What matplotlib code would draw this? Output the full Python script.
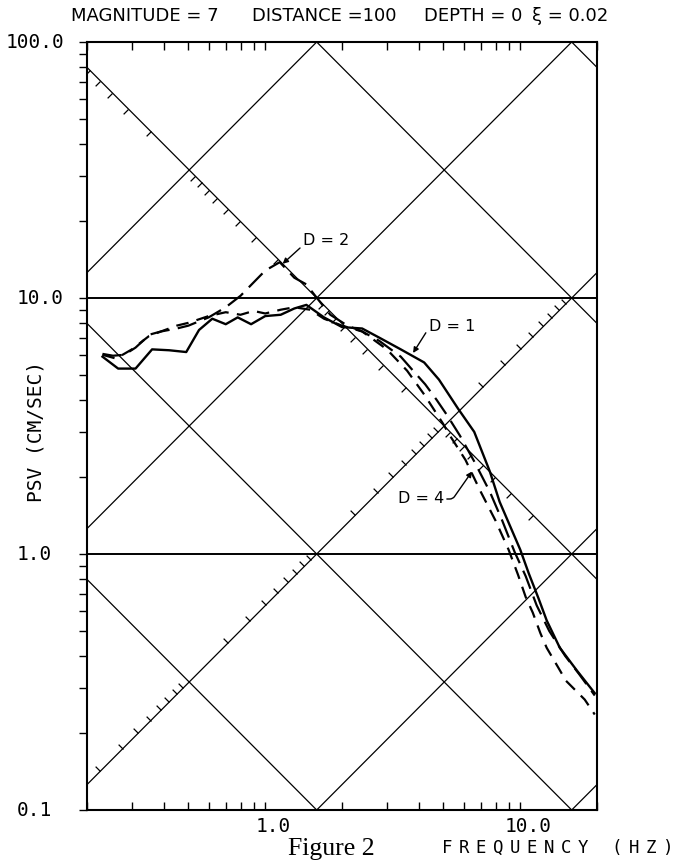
import numpy as np
import matplotlib.pyplot as plt
import matplotlib.transforms as mtransforms
from matplotlib.path import Path
from matplotlib.ticker import FixedLocator, NullFormatter

plt.rcParams['lines.scale_dashes'] = False

# PSV response spectra (cm/sec) vs frequency (Hz), one per depth parameter D
freq_d1 = [0.23, 0.265, 0.31, 0.36, 0.42, 0.49, 0.55, 0.62, 0.70, 0.78, 0.88, 1.0,
           1.15, 1.3, 1.45, 1.7, 2.0, 2.4, 2.8, 3.4, 4.2, 4.8, 5.7, 6.6, 7.6, 8.3,
           9.4, 10.0, 10.8, 11.8, 12.7, 14.3, 16.7, 19.6]
psv_d1 = [5.9, 5.3, 5.3, 6.3, 6.25, 6.15, 7.5, 8.3, 7.9, 8.4, 7.9, 8.5,
          8.6, 9.1, 9.4, 8.4, 7.7, 7.6, 7.0, 6.3, 5.6, 4.8, 3.7, 3.0, 2.1, 1.6,
          1.2, 1.04, 0.84, 0.67, 0.55, 0.43, 0.35, 0.286]

freq_d2 = [0.23, 0.253, 0.28, 0.31, 0.353, 0.39, 0.45, 0.5, 0.6, 0.7, 0.8, 0.9, 1.0,
           1.14, 1.3, 1.45, 1.57, 1.8, 2.1, 2.4, 2.8, 3.4, 3.8, 4.24, 4.7, 5.15,
           5.8, 6.6, 7.6, 8.5, 9.5, 10.5, 11.6, 13.0, 15.0, 17.0, 19.6]
psv_d2 = [6.05, 5.95, 6.0, 6.4, 7.2, 7.4, 7.6, 7.8, 8.4, 9.2, 10.2, 11.5, 12.8,
          13.8, 12.0, 11.3, 10.2, 8.6, 7.8, 7.4, 6.8, 5.9, 5.2, 4.6, 4.0, 3.5,
          2.9, 2.3, 1.75, 1.35, 1.02, 0.82, 0.63, 0.5, 0.4, 0.34, 0.28]

freq_d4 = [0.23, 0.26, 0.30, 0.35, 0.39, 0.45, 0.5, 0.6, 0.7, 0.8, 0.9, 1.0, 1.15,
           1.3, 1.5, 1.7, 2.0, 2.4, 3.0, 3.6, 4.2, 4.98, 5.3, 6.1, 7.0, 8.0,
           9.0, 9.8, 10.5, 11.2, 12.0, 12.7, 14.1, 15.1, 17.9, 19.6]
psv_d4 = [6.0, 5.8, 6.3, 7.1, 7.4, 7.8, 8.0, 8.5, 8.8, 8.6, 8.9, 8.7, 9.0,
          9.2, 9.0, 8.3, 7.8, 7.4, 6.3, 5.2, 4.2, 3.23, 2.9, 2.33, 1.75, 1.35,
          1.04, 0.83, 0.68, 0.59, 0.49, 0.43, 0.36, 0.32, 0.27, 0.236]

# tripartite grid: displacement (cm) and acceleration (cm/sec^2) decades
disp_levels = [1e-4, 1e-3, 1e-2, 1e-1, 1, 10, 100]
acc_levels = [0.1, 1, 10, 100, 1e3, 1e4, 1e5]
disp_scale_acc = 100.0   # acceleration line that carries the displacement ticks
acc_scale_disp = 0.1     # displacement line that carries the acceleration ticks

x_labels = ['1.0', '10.0']
y_labels = ['0.1', '1.0', '10.0', '100.0']

fmin, fmax = 0.2, 20.0
vmin, vmax = 0.1, 100.0

W, H = 691, 860
fig = plt.figure(figsize=(W / 100, H / 100), dpi=100)
ax = fig.add_axes([87 / W, 50 / H, 510 / W, 768 / H])
ax.set_xscale('log')
ax.set_yscale('log')
ax.set_xlim(fmin, fmax)
ax.set_ylim(vmin, vmax)

f = np.logspace(np.log10(fmin), np.log10(fmax), 200)
for d in disp_levels:
    ax.plot(f, 2 * np.pi * f * d, color='k', lw=0.9)
for a in acc_levels:
    ax.plot(f, a / (2 * np.pi * f), color='k', lw=0.9)
for v in [1.0, 10.0]:
    ax.axhline(v, color='k', lw=1.4)

# small ticks along the two scale diagonals
mult = [m * 10.0 ** k for k in range(-4, 6) for m in range(2, 10)]
tick_dl = Path([(0, 0), (-1, -1)])
tick_ul = Path([(0, 0), (-1, 1)])

fd, vd = [], []
for d in mult:
    ff = np.sqrt(disp_scale_acc / d) / (2 * np.pi)
    vv = disp_scale_acc / (2 * np.pi * ff)
    if fmin < ff < 16 and vmin < vv < vmax:
        fd.append(ff)
        vd.append(vv)
ax.plot(fd, vd, ls='none', marker=tick_dl, ms=7, mec='k', mew=0.9)

fa, va = [], []
for a in mult:
    ff = np.sqrt(a / acc_scale_disp) / (2 * np.pi)
    vv = 2 * np.pi * ff * acc_scale_disp
    if fmin < ff < 16 and vmin < vv < vmax:
        fa.append(ff)
        va.append(vv)
ax.plot(fa, va, ls='none', marker=tick_ul, ms=7, mec='k', mew=0.9)

# spectra
ax.plot(freq_d1, psv_d1, color='k', lw=1.7)
ax.plot(freq_d2, psv_d2, color='k', lw=1.6, dashes=(14, 6))
ax.plot(freq_d4, psv_d4, color='k', lw=1.6, dashes=(9, 6))

arrow = dict(arrowstyle='-|>', color='k', lw=1.0, mutation_scale=8,
             shrinkA=0, shrinkB=0)
ax.annotate('D = 2', xy=(1.17, 13.6), xytext=(1.73, 16.7), fontsize=11.5,
            ha='center', va='center', arrowprops=dict(arrow, relpos=(0.0, 0.2)))
ax.annotate('D = 1', xy=(3.8, 6.1), xytext=(5.39, 7.71), fontsize=11.5,
            ha='center', va='center', arrowprops=dict(arrow, relpos=(0.0, 0.4)))
ax.annotate('D = 4', xy=(6.47, 2.1), xytext=(4.08, 1.64), fontsize=11.5,
            ha='center', va='center',
            arrowprops=dict(arrow, relpos=(1.0, 0.5),
                            connectionstyle='angle,angleA=0,angleB=55,rad=3'))

# axes styling
for s in ax.spines.values():
    s.set_linewidth(1.5)
ax.xaxis.set_major_locator(FixedLocator([1.0, 10.0]))
ax.xaxis.set_minor_locator(FixedLocator([m * 10.0 ** k for k in (-1, 0, 1) for m in range(2, 10)]))
ax.yaxis.set_major_locator(FixedLocator([0.1, 1.0, 10.0, 100.0]))
ax.yaxis.set_minor_locator(FixedLocator([m * 10.0 ** k for k in (-1, 0, 1) for m in range(2, 10)]))
ax.xaxis.set_major_formatter(NullFormatter())
ax.yaxis.set_major_formatter(NullFormatter())
ax.xaxis.set_minor_formatter(NullFormatter())
ax.yaxis.set_minor_formatter(NullFormatter())
ax.tick_params(axis='x', which='both', direction='in', top=True, bottom=True,
               length=6, width=1.0)
ax.tick_params(axis='y', which='both', direction='out', left=True, right=False,
               length=6, width=1.0)

# tick labels placed like the plotter did (left aligned on the y axis)
ytr = mtransforms.blended_transform_factory(fig.transFigure, ax.transData)
for v, lab in zip([0.1, 1.0, 10.0, 100.0], y_labels):
    x0 = 6 if lab == '100.0' else 17
    ax.text(x0 / W, v, lab, transform=ytr, ha='left', va='center',
            family='DejaVu Sans Mono', fontsize=14)
xtr = mtransforms.blended_transform_factory(ax.transData, fig.transFigure)
for v, lab in zip([1.0, 10.0], x_labels):
    ax.text(v * 1.075, 1 - 826 / H, lab, transform=xtr, ha='center', va='center',
            family='DejaVu Sans Mono', fontsize=14)

fig.text(36 / W, 1 - 431 / H, 'PSV (CM/SEC)', rotation=90, ha='center', va='center',
         family='DejaVu Sans Mono', fontsize=14)

title_parts = [(71, 'MAGNITUDE = 7'), (252, 'DISTANCE =100'),
               (424, 'DEPTH = 0'), (532, '\u03be = 0.02')]
for x0, txt in title_parts:
    fig.text(x0 / W, 1 - 16 / H, txt, ha='left', va='center',
             family='DejaVu Sans', fontsize=13)

fig.text(331 / W, 1 - 849 / H, 'Figure 2', ha='center', va='center',
         family='Liberation Serif', fontsize=18.5)

# the plotter spaced the axis caption out letter by letter
xlabel = 'FREQUENCY (HZ)'
for i, ch in enumerate(xlabel):
    fig.text((447 + 17 * i) / W, 1 - 848 / H, ch, ha='center', va='center',
             family='DejaVu Sans Mono', fontsize=12.5)

fig.savefig('out.png', dpi=100)
